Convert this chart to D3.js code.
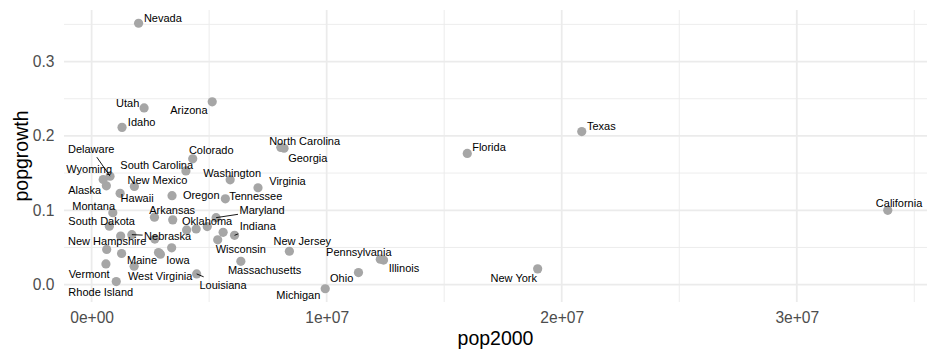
<!DOCTYPE html>
<html>
<head>
<meta charset="utf-8">
<script src="https://cdn.jsdelivr.net/npm/d3@7"></script>
<style>
  html, body { margin: 0; padding: 0; background: #ffffff; }
  svg { display: block; font-family: "Liberation Sans", Arial, Helvetica, sans-serif; }
</style>
</head>
<body>
<svg id="chart" width="936" height="360"></svg>
<script>
// ---- data ----
const states = ["Alabama","Alaska","Arizona","Arkansas","California","Colorado","Connecticut","Delaware","Florida","Georgia","Hawaii","Idaho","Illinois","Indiana","Iowa","Kansas","Kentucky","Louisiana","Maine","Maryland","Massachusetts","Michigan","Minnesota","Mississippi","Missouri","Montana","Nebraska","Nevada","New Hampshire","New Jersey","New Mexico","New York","North Carolina","North Dakota","Ohio","Oklahoma","Oregon","Pennsylvania","Rhode Island","South Carolina","South Dakota","Tennessee","Texas","Utah","Vermont","Virginia","Washington","West Virginia","Wisconsin","Wyoming"];
const pop2000 = [4447100,626932,5130632,2673400,33871648,4301261,3405565,783600,15982378,8186453,1211537,1293953,12419293,6080485,2926324,2688418,4041769,4468976,1274923,5296486,6349097,9938444,4919479,2844658,5595211,902195,1711263,1998257,1235786,8414350,1819046,18976457,8049313,642200,11353140,3450654,3421399,12281054,1048319,4012012,754844,5689283,20851820,2233169,608827,7078515,5894121,1808344,5363675,493782];
const popgrowth = [0.0748,0.1329,0.2459,0.0907,0.0999,0.1692,0.0495,0.1459,0.1764,0.1834,0.1228,0.2115,0.0331,0.0663,0.0410,0.0613,0.0736,0.0144,0.0419,0.0901,0.0313,-0.0055,0.0781,0.0431,0.0704,0.0967,0.0672,0.3515,0.0653,0.0449,0.1320,0.0212,0.1846,0.0473,0.0162,0.0871,0.1197,0.0343,0.0041,0.1529,0.0786,0.1154,0.2059,0.2377,0.0278,0.1303,0.1409,0.0247,0.0603,0.1414];
const xTicks = [0, 1e7, 2e7, 3e7];
const xTickLabels = ["0e+00", "1e+07", "2e+07", "3e+07"];
const xMinor = [5e6, 1.5e7, 2.5e7, 3.5e7];
const yTicks = [0, 0.1, 0.2, 0.3];
const yTickLabels = ["0.0", "0.1", "0.2", "0.3"];
const yMinor = [0.05, 0.15, 0.25, 0.35];
const xTitle = "pop2000";
const yTitle = "popgrowth";

// ---- label layout (repelled label offsets in px, relative to point) ----
const labelNudge = {
  "Nevada": [24.3, -5], "Utah": [-16.4, -4.4], "Arizona": [-23.3, 8.3], "Idaho": [19.6, -5.5],
  "Delaware": [-18.8, -27], "Wyoming": [-14.1, -10.7], "Alaska": [-21.7, 4.7], "Montana": [-19.2, -6.1],
  "South Dakota": [-7.7, -5], "New Hampshire": [-13.5, 5], "Vermont": [-16.8, 9.7], "Rhode Island": [-15.5, 10.1],
  "South Carolina": [-29.2, -6.1], "Colorado": [18.5, -8.4], "New Mexico": [23.1, -6], "Hawaii": [17, 4.9],
  "Washington": [2, -6.7], "Virginia": [29.5, -6.5], "Oregon": [29.2, -0.7], "Tennessee": [30.4, -2.7],
  "Arkansas": [17.7, -6.6], "Maryland": [46, -7], "Oklahoma": [34.4, 1.7], "Indiana": [23.2, -9.3],
  "Nebraska": [35.8, 1.5], "Wisconsin": [23.1, 8.9], "Maine": [20.5, 6.8], "Iowa": [17.5, 6.4],
  "West Virginia": [26, 10.2], "Louisiana": [26.3, 10.9], "Massachusetts": [23.8, 8.9],
  "North Carolina": [23.8, -6.5], "Georgia": [23.7, 9.8], "New Jersey": [12.9, -9.9],
  "Pennsylvania": [-21.5, -6.5], "Illinois": [20.4, 7.7], "Ohio": [-16.8, 6], "Michigan": [-26.9, 6.3],
  "Texas": [19.6, -5.8], "Florida": [21.7, -6.6], "California": [11.3, -7.3], "New York": [-23.9, 8.8]
};
const withSegment = ["Delaware", "Maryland", "Indiana", "Nebraska", "Louisiana"];

// ---- chart ----
const svg = d3.select("#chart");
const panel = { left: 64, right: 927, top: 10, bottom: 302 };

const rows = states.map((s, i) => ({ state: s, pop: pop2000[i], growth: popgrowth[i] }));

function expand(ext) { const r = ext[1] - ext[0]; return [ext[0] - 0.05 * r, ext[1] + 0.05 * r]; }
const x = d3.scaleLinear().domain(expand(d3.extent(pop2000))).range([panel.left, panel.right]);
const y = d3.scaleLinear().domain(expand(d3.extent(popgrowth))).range([panel.bottom, panel.top]);

// grid
const grid = svg.append("g");
grid.selectAll(".xminor").data(xMinor).join("line")
  .attr("x1", d => x(d)).attr("x2", d => x(d)).attr("y1", panel.top).attr("y2", panel.bottom)
  .attr("stroke", "#ebebeb").attr("stroke-width", 0.9);
grid.selectAll(".yminor").data(yMinor).join("line")
  .attr("y1", d => y(d)).attr("y2", d => y(d)).attr("x1", panel.left).attr("x2", panel.right)
  .attr("stroke", "#ebebeb").attr("stroke-width", 0.9);
grid.selectAll(".xmajor").data(xTicks).join("line")
  .attr("x1", d => x(d)).attr("x2", d => x(d)).attr("y1", panel.top).attr("y2", panel.bottom)
  .attr("stroke", "#ebebeb").attr("stroke-width", 1.8);
grid.selectAll(".ymajor").data(yTicks).join("line")
  .attr("y1", d => y(d)).attr("y2", d => y(d)).attr("x1", panel.left).attr("x2", panel.right)
  .attr("stroke", "#ebebeb").attr("stroke-width", 1.8);

// axes
const xAxis = d3.axisBottom(x).tickValues(xTicks).tickSize(0).tickPadding(10)
  .tickFormat((d, i) => xTickLabels[i]);
const gx = svg.append("g").attr("transform", `translate(0,${panel.bottom})`).call(xAxis);
gx.select(".domain").remove();
gx.selectAll("text").attr("fill", "#4d4d4d").style("font-size", "15.6px")
  .style("font-family", "'Liberation Sans', Arial, sans-serif");

const yAxis = d3.axisLeft(y).tickValues(yTicks).tickSize(0).tickPadding(9.5)
  .tickFormat((d, i) => yTickLabels[i]);
const gy = svg.append("g").attr("transform", `translate(${panel.left},0)`).call(yAxis);
gy.select(".domain").remove();
gy.selectAll("text").attr("fill", "#4d4d4d").style("font-size", "15.6px")
  .style("font-family", "'Liberation Sans', Arial, sans-serif");

// titles
svg.append("text").attr("x", (panel.left + panel.right) / 2).attr("y", 344.5)
  .attr("text-anchor", "middle").attr("fill", "#000").style("font-size", "19.5px").text(xTitle);
svg.append("text").attr("transform", `translate(28,${(panel.top + panel.bottom) / 2}) rotate(-90)`)
  .attr("text-anchor", "middle").attr("fill", "#000").style("font-size", "19.5px").text(yTitle);

// points
svg.append("g").selectAll("circle").data(rows).join("circle")
  .attr("cx", d => x(d.pop)).attr("cy", d => y(d.growth)).attr("r", 4.6)
  .attr("fill", "#a6a6a6");

// labels
const labeled = rows.filter(d => labelNudge[d.state]);
const segG = svg.append("g");
const lblG = svg.append("g");
labeled.forEach(d => {
  const px = x(d.pop), py = y(d.growth);
  const [dx, dy] = labelNudge[d.state];
  const cx = px + dx, cy = py + dy;
  const t = lblG.append("text").attr("x", cx).attr("y", cy).attr("dy", "0.35em")
    .attr("text-anchor", "middle").attr("fill", "#000").style("font-size", "11px").text(d.state);
  if (withSegment.includes(d.state)) {
    const w = t.node().getComputedTextLength();
    const hw = w / 2 + 1.5, hh = 5.5 + 2.5;
    const vx = px - cx, vy = py - cy;
    const tt = Math.min(Math.abs(vx) > 0 ? hw / Math.abs(vx) : Infinity, Math.abs(vy) > 0 ? hh / Math.abs(vy) : Infinity);
    segG.append("line")
      .attr("x1", cx + tt * vx).attr("y1", cy + tt * vy)
      .attr("x2", px).attr("y2", py)
      .attr("stroke", "#000").attr("stroke-width", 0.9);
  }
});
</script>
</body>
</html>
